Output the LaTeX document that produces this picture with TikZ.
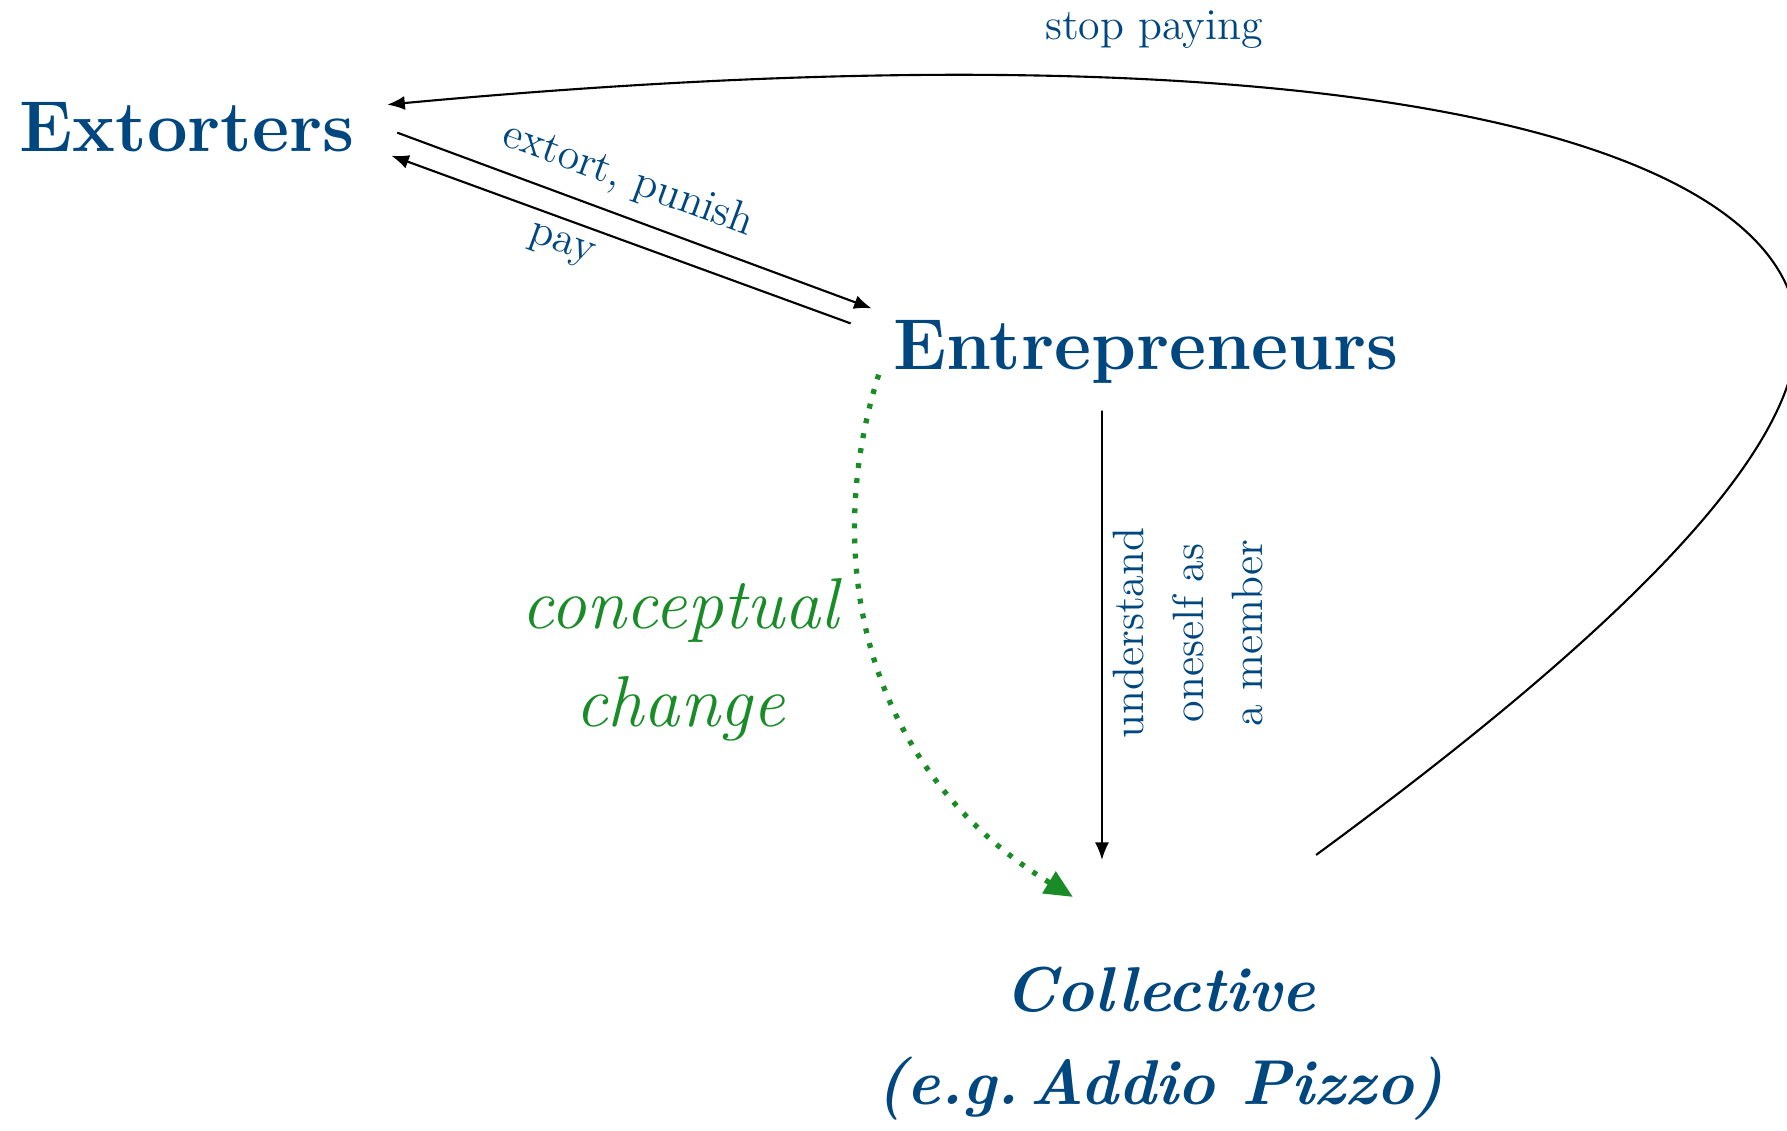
\documentclass[tikz,border=0pt]{standalone}
\usepackage{fontspec}
\usetikzlibrary{arrows.meta}

\definecolor{mafiablue}{RGB}{0,70,127}
\definecolor{changegreen}{RGB}{25,140,40}

\begin{document}
\begin{tikzpicture}[x=0.01cm,y=-0.01cm,
  >={Latex[length=5pt,width=4pt]},
  actor/.style={text=mafiablue,inner sep=0pt,font=\fontsize{20.5}{24}\selectfont\bfseries},
  verb/.style={text=mafiablue,font=\fontsize{12.5}{17}\selectfont},
  link/.style={line width=0.6pt}]
 \useasboundingbox (0,0) rectangle (1787,1131);
 % the three parties
 \node[actor,anchor=base] (ext) at (187,152) {Extorters};
 \node[actor,anchor=base] (ent) at (1146,370) {Entrepreneurs};
 \node[actor,anchor=north,align=center,font=\fontsize{18}{26.5}\selectfont\bfseries\itshape] (coll) at (1160,966) {Collective\\(e.g.\,Addio Pizzo)};
 \node[text=changegreen,align=center,font=\fontsize{20.5}{28}\selectfont\itshape] (cc) at (680,660) {conceptual\\change};
 % extortion loop
 \draw[link,->] ([xshift=0.42cm,yshift=-0.05cm]ext.east) -- node[verb,sloped,above=1pt,pos=0.46] (lblx) {extort, punish} ([xshift=-0.21cm,yshift=0.44cm]ent.west);
 \draw[link,<-] ([xshift=0.36cm,yshift=-0.28cm]ext.east) -- node[verb,sloped,below,pos=0.39] (lblp) {pay} ([xshift=-0.42cm,yshift=0.29cm]ent.west);
 % membership
 \draw[->,line width=0.5pt] ([xshift=-0.44cm,yshift=-0.26cm]ent.south) -- ([xshift=-0.58cm,yshift=1.06cm]coll.north);
 \node[verb,rotate=90,align=center] (mem) at (1188,633) {understand\\oneself as\\a member};
 \draw[changegreen,line width=1.5pt,dash pattern=on 1.4pt off 2.9pt,-{Triangle[length=8pt,width=7pt]}]
   ([xshift=-0.14cm,yshift=0.10cm]ent.south west) .. controls (820,560) and (865,770) .. ([xshift=-0.87cm,yshift=0.69cm]coll.north);
 % collective stops paying
 \draw[link,<-] ([xshift=0.32cm,yshift=0.23cm]ext.east) .. controls (1300,20) and (1740,130) .. (1792,300)
   .. controls (1830,420) and (1650,610) .. ([xshift=1.56cm,yshift=1.11cm]coll.north);
 \node[verb] (stop) at (1154,30) {stop paying};
\end{tikzpicture}
\end{document}
